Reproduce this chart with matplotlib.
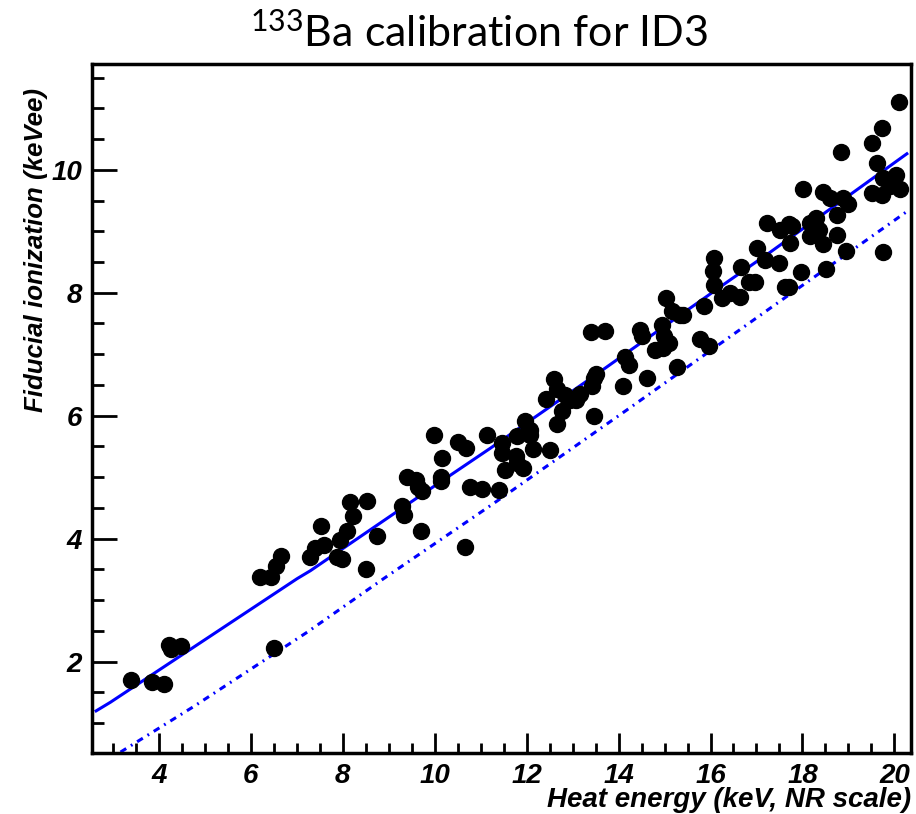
import matplotlib
matplotlib.use("Agg")
import matplotlib.pyplot as plt
from matplotlib.ticker import MultipleLocator

# ---- data ----
heat_energy = [3.40, 3.85, 4.11, 4.22, 4.26, 4.49, 6.50, 6.20, 6.45, 6.56, 6.65, 7.28,
               7.41, 7.59, 7.52, 7.88, 7.99, 7.95, 8.10, 8.17, 8.23, 8.54, 8.50, 8.75,
               9.29, 9.33, 9.39, 9.60, 9.64, 9.73, 9.71, 9.98, 10.16, 10.14, 10.14,
               10.51, 10.68, 10.78, 11.03, 10.67, 11.14,
               11.39, 11.47, 11.47, 11.54, 11.78, 11.79, 11.80, 11.93, 11.96, 12.07, 12.08,
               12.15, 12.50, 12.42, 12.59, 12.66, 12.66, 12.78, 12.84, 12.95, 13.08, 13.17,
               13.40, 13.70, 13.42, 13.47, 13.52, 13.46, 14.09, 14.15, 14.22,
               14.62, 14.47, 14.51, 14.80, 14.97, 14.94, 14.98, 15.09, 15.04, 15.16, 15.34,
               15.27, 15.41, 15.78, 15.96, 15.85, 16.07, 16.05, 16.07, 16.26, 16.43, 16.65,
               16.67, 16.83, 16.96, 17.01, 17.23, 17.19,
               17.50, 17.52, 17.70, 17.77, 17.72, 17.63, 17.71, 17.97, 18.01, 18.17, 18.30,
               18.37, 18.17, 18.44, 18.44, 18.60, 18.75, 18.89, 19.00, 18.76, 18.51, 18.95,
               18.84, 19.52, 19.74, 20.10, 19.63, 19.75, 19.91, 20.03, 20.12, 19.52, 19.74,
               19.91, 19.75]
ionization = [1.70, 1.67, 1.63, 2.27, 2.20, 2.26, 2.22, 3.38, 3.38, 3.55, 3.72, 3.71,
              3.85, 3.89, 4.21, 3.70, 3.67, 3.98, 4.13, 4.59, 4.37, 4.61, 3.51, 4.04,
              4.54, 4.39, 5.01, 4.96, 4.84, 4.77, 4.12, 5.68, 5.31, 5.01, 4.94,
              5.57, 5.47, 4.84, 4.81, 3.86, 5.69,
              4.80, 5.56, 5.39, 5.12, 5.34, 5.67, 5.23, 5.15, 5.92, 5.77, 5.69,
              5.46, 5.44, 6.28, 6.59, 6.43, 5.87, 6.07, 6.34, 6.26, 6.25, 6.36,
              7.36, 7.37, 6.49, 6.61, 6.68, 6.00, 6.49, 6.96, 6.83,
              6.61, 7.40, 7.29, 7.07, 7.10, 7.48, 7.30, 7.18, 7.91, 7.70, 7.63,
              6.80, 7.63, 7.24, 7.13, 7.78, 8.57, 8.35, 8.13, 7.91, 8.00, 7.93,
              8.42, 8.17, 8.17, 8.73, 9.13, 8.54,
              8.48, 9.02, 9.12, 9.08, 8.81, 8.10, 8.10, 8.33, 9.69, 9.13, 9.21,
              9.02, 8.92, 8.80, 9.64, 9.54, 9.27, 9.54, 9.44, 8.94, 8.39, 8.68,
              10.29, 10.44, 10.68, 11.10, 10.11, 9.87, 9.84, 9.92, 9.69, 9.62, 9.59,
              9.73, 8.67]

# calibration curve (solid) and lower band (dash-dot)
fit_x = [2.64, 2.95, 7.01, 7.30, 10.12, 11.21, 13.38, 14.25, 16.43, 17.30, 20.27]
fit_y = [1.20, 1.34, 3.35, 3.48, 4.92, 5.47, 6.60, 7.06, 8.21, 8.66, 10.26]
band_x = [3.17, 4.76, 7.23, 8.89, 11.14, 11.43, 14.25, 17.30, 20.25]
band_y = [0.53, 1.27, 2.48, 3.35, 4.50, 4.65, 6.13, 7.75, 9.31]

x_ticks = [4, 6, 8, 10, 12, 14, 16, 18, 20]
y_ticks = [2, 4, 6, 8, 10]

title_text = r"$^{133}$Ba calibration for ID3"
xlabel_text = "Heat energy (keV, NR scale)"
ylabel_text = "Fiducial ionization (keVee)"

# ---- figure ----
plt.rcParams["mathtext.fontset"] = "custom"
plt.rcParams["mathtext.rm"] = "Lato"
plt.rcParams["mathtext.it"] = "Lato:italic"

W, H = 916, 814
fig = plt.figure(figsize=(W / 100, H / 100), dpi=100)
ax = fig.add_axes([92 / W, 1 - 753 / H, (911 - 92) / W, (753 - 64) / H])

ax.plot(fit_x, fit_y, color="#0000ff", lw=2.2, zorder=2)
ax.plot(band_x, band_y, color="#0000ff", lw=2.2,
        linestyle=(0, (2.2, 1.8, 0.6, 1.8)), zorder=2)
ax.plot(heat_energy, ionization, "o", color="black", ms=11.5, mec="black", zorder=3)

ax.set_xlim(2.55, 20.36)
ax.set_ylim(0.515, 11.72)

ax.set_xticks(x_ticks)
ax.set_yticks(y_ticks)
ax.xaxis.set_minor_locator(MultipleLocator(0.5))
ax.yaxis.set_minor_locator(MultipleLocator(0.5))
ax.tick_params(which="both", direction="in", top=False, right=False, width=2.0, color="black")
ax.tick_params(axis="x", which="major", length=14.5, pad=7)
ax.tick_params(axis="x", which="minor", length=7)
ax.tick_params(axis="y", which="major", length=18, pad=7)
ax.tick_params(axis="y", which="minor", length=8.5)

for lab in ax.get_xticklabels() + ax.get_yticklabels():
    lab.set_fontfamily("Liberation Sans")
    lab.set_fontweight("bold")
    lab.set_fontstyle("italic")
    lab.set_fontsize(20)

for sp in ax.spines.values():
    sp.set_linewidth(2.5)
    sp.set_color("black")

fig.text(911 / W, 1 - 800 / H, xlabel_text, ha="right", va="center",
         fontfamily="Liberation Sans", fontweight="bold", fontstyle="italic", fontsize=20)
fig.text(36 / W, 1 - 88 / H, ylabel_text, ha="center", va="top", rotation=90,
         fontfamily="Liberation Sans", fontweight="bold", fontstyle="italic", fontsize=18.6)

fig.text(479 / W, 1 - 33 / H, title_text, ha="center", va="center",
         fontfamily="Lato", fontsize=31)

fig.savefig("out.png", dpi=100)
